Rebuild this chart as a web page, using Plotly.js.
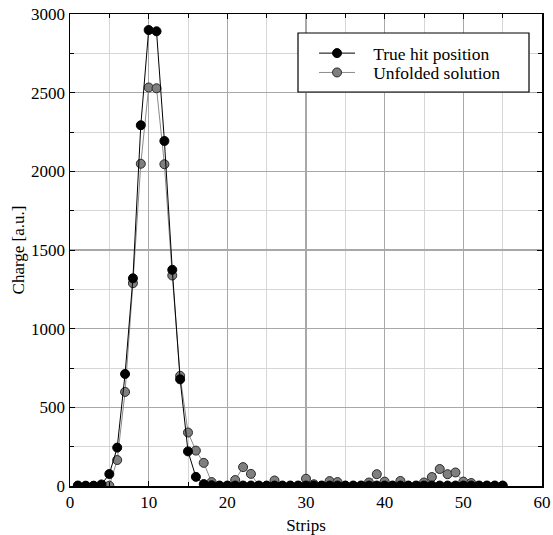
<!DOCTYPE html>
<html>
<head>
<meta charset="utf-8">
<script src="https://cdn.plot.ly/plotly-3.0.1.min.js"></script>
<style>html,body{margin:0;padding:0;background:#fff;}#chart{width:553px;height:535px;}</style>
</head>
<body>
<div id="chart"></div>
<script>
const strips = [1,2,3,4,5,6,7,8,9,10,11,12,13,14,15,16,17,18,19,20,21,22,23,24,25,26,27,28,29,30,31,32,33,34,35,36,37,38,39,40,41,42,43,44,45,46,47,48,49,50,51,52,53,54,55];
const trueHit = [3,2,2,10,76,244,712,1320,2293,2898,2890,2193,1374,678,220,58,12,5,3,3,3,3,3,3,3,3,3,3,3,3,3,3,3,3,3,3,3,3,3,3,3,3,3,3,3,3,3,3,3,3,3,3,3,3,3];
const unfolded = [0,0,0,0,2,165,598,1289,2048,2533,2528,2045,1338,700,340,225,147,25,0,0,38,120,77,0,0,35,0,0,0,46,11,0,31,25,0,0,0,22,75,28,0,32,0,0,22,57,108,75,86,28,19,0,0,0,0];
const seriesNames = ["True hit position", "Unfolded solution"];
const xTitle = "Strips";
const yTitle = "Charge [a.u.]";

const FONT = "Liberation Serif, DejaVu Serif, serif";
const PAD = "&nbsp;&nbsp;&nbsp;";

const traces = [
  {
    x: strips, y: unfolded, type: "scatter", mode: "lines+markers",
    name: PAD + seriesNames[1], legend: "legend2",
    line: {color: "#8a8a8a", width: 1},
    marker: {symbol: "circle", size: 9, color: "#7f7f7f", line: {color: "#2a2a2a", width: 1}}
  },
  {
    x: strips, y: trueHit, type: "scatter", mode: "lines+markers",
    name: PAD + seriesNames[0], legend: "legend",
    line: {color: "#000000", width: 1},
    marker: {symbol: "circle", size: 9, color: "#000000", line: {color: "#000000", width: 1}}
  }
];

const axisCommon = {
  showline: true, linecolor: "#000", linewidth: 1.5, mirror: "allticks",
  ticks: "inside", ticklen: 5, tickwidth: 1, tickcolor: "#000",
  showgrid: true, gridcolor: "#a8a8a8", gridwidth: 1.3,
  zeroline: false,
  tickfont: {family: FONT, size: 17, color: "#000"},
  minor: {ticks: "inside", ticklen: 4, tickcolor: "#000", showgrid: true, gridcolor: "#d6d6d6", gridwidth: 1}
};

const legendCommon = {
  xanchor: "left", yanchor: "top",
  bgcolor: "rgba(0,0,0,0)", borderwidth: 0,
  font: {family: FONT, size: 17.5, color: "#000"},
  itemwidth: 36
};

const layout = {
  width: 553, height: 535,
  margin: {l: 70, r: 11, t: 14, b: 49},
  paper_bgcolor: "#fff", plot_bgcolor: "#fff",
  font: {family: FONT, color: "#000"},
  xaxis: Object.assign({}, axisCommon, {
    range: [0, 60], dtick: 10, tick0: 0,
    minor: Object.assign({}, axisCommon.minor, {dtick: 5}),
    title: {text: xTitle, font: {family: FONT, size: 17}, standoff: 8}
  }),
  yaxis: Object.assign({}, axisCommon, {
    range: [0, 3000], dtick: 500, tick0: 0,
    minor: Object.assign({}, axisCommon.minor, {dtick: 250}),
    title: {text: yTitle, font: {family: FONT, size: 17}, standoff: 2}
  }),
  showlegend: true,
  legend: Object.assign({}, legendCommon, {x: 0.517, y: 0.955}),
  legend2: Object.assign({}, legendCommon, {x: 0.517, y: 0.914}),
  shapes: [{
    type: "rect", xref: "paper", yref: "paper", layer: "above",
    x0: (298 - 70) / 472, x1: (529 - 70) / 472,
    y0: (486 - 92) / 472, y1: (486 - 33) / 472,
    fillcolor: "#fff", line: {color: "#000", width: 1.2}
  }]
};

Plotly.newPlot("chart", traces, layout, {staticPlot: true, displayModeBar: false});
</script>
</body>
</html>
